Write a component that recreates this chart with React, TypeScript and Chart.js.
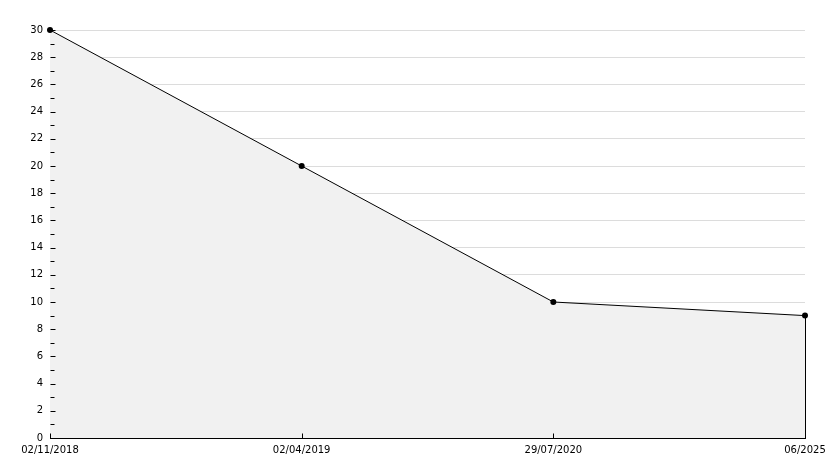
import React, { useEffect, useRef } from "react";
import { Chart, registerables } from "chart.js";

Chart.register(...registerables);

const categories: string[] = ["02/11/2018", "02/04/2019", "29/07/2020", "06/2025"];
const values: number[] = [30, 20, 10, 9];
const yMin = 0;
const yMax = 30;

const FONT = { family: "'DejaVu Sans', sans-serif", size: 10 };

const ticksPlugin = {
  id: "innerTicks",
  afterDatasetsDraw(chart: any) {
    const { ctx, scales } = chart;
    const x = scales.x;
    const y = scales.y;
    const left = Math.round(x.left) + 0.5;
    const bottom = Math.round(y.getPixelForValue(0)) + 0.5;
    ctx.save();
    ctx.strokeStyle = "#000";
    ctx.lineWidth = 1;
    ctx.beginPath();
    for (let v = yMin; v <= yMax; v++) {
      const py = Math.round(y.getPixelForValue(v)) + 0.5;
      const len = v % 2 === 0 ? 5 : 4;
      ctx.moveTo(left, py);
      ctx.lineTo(left + len, py);
    }
    for (let i = 0; i < categories.length; i++) {
      const px = Math.round(x.getPixelForValue(i)) + 0.5;
      ctx.moveTo(px, bottom);
      ctx.lineTo(px, bottom - 5);
    }
    const last = values.length - 1;
    const lx = Math.round(x.getPixelForValue(last)) + 0.5;
    ctx.moveTo(lx, y.getPixelForValue(values[last]));
    ctx.lineTo(lx, bottom);
    ctx.stroke();
    ctx.restore();
  },
};

export default function App() {
  const ref = useRef<HTMLCanvasElement>(null);
  useEffect(() => {
    if (!ref.current) return;
    const chart = new Chart(ref.current, {
      type: "line",
      data: {
        labels: categories,
        datasets: [
          {
            data: values,
            borderColor: "#000",
            borderWidth: 1,
            backgroundColor: "#f1f1f1",
            fill: "origin",
            tension: 0,
            clip: false,
            pointStyle: "circle",
            pointRadius: 3,
            pointBackgroundColor: "#000",
            pointBorderColor: "#000",
            pointBorderWidth: 0,
          },
        ],
      },
      options: {
        responsive: false,
        animation: false,
        devicePixelRatio: 1,
        layout: { padding: { top: 30, right: 29, left: 0, bottom: 0 } },
        plugins: { legend: { display: false }, tooltip: { enabled: false } },
        scales: {
          x: {
            type: "category",
            offset: false,
            grid: { display: false, drawTicks: false },
            border: { display: true, color: "#000", width: 1 },
            ticks: {
              autoSkip: false,
              maxRotation: 0,
              minRotation: 0,
              color: "#000",
              font: FONT,
              padding: 6,
            },
            afterFit: (s: any) => {
              s.height = 30;
              s.paddingLeft = 0;
              s.paddingRight = 0;
            },
          },
          y: {
            type: "linear",
            min: yMin,
            max: yMax,
            grid: {
              drawTicks: false,
              color: (c: any) =>
                c.tick && c.tick.value % 2 === 0 && c.tick.value !== 0 ? "#dcdcdc" : "rgba(0,0,0,0)",
              lineWidth: 1,
            },
            border: { display: true, color: "#000", width: 1 },
            ticks: {
              stepSize: 1,
              autoSkip: false,
              color: "#000",
              font: FONT,
              padding: 7,
              callback: (v: any) => (Number(v) % 2 === 0 ? String(v) : ""),
            },
            afterFit: (s: any) => {
              s.width = 50;
            },
          },
        },
      },
      plugins: [ticksPlugin],
    });
    return () => chart.destroy();
  }, []);
  return (
    <div style={{ position: "fixed", left: 0, top: 0, width: 834, height: 468, background: "#fff" }}>
      <canvas ref={ref} width={834} height={468} style={{ display: "block" }} />
    </div>
  );
}
